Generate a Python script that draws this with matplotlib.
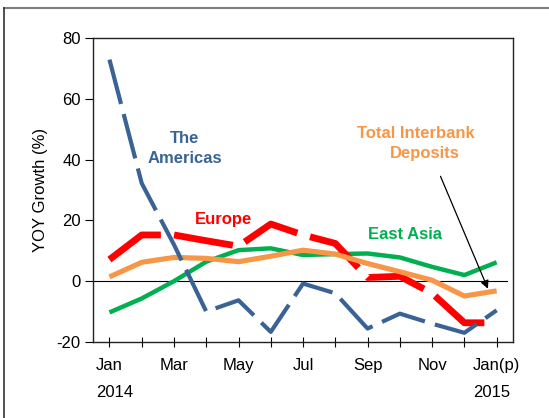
import numpy as np
import matplotlib
matplotlib.use('Agg')
import matplotlib.pyplot as plt
from matplotlib.lines import Line2D

plt.rcParams['font.family'] = ['Liberation Sans', 'DejaVu Sans']
plt.rcParams['lines.scale_dashes'] = False
plt.rcParams['axes.unicode_minus'] = False

# Monthly YOY growth (%), Jan 2014 .. Jan 2015 (p)
months = ['Jan', 'Feb', 'Mar', 'Apr', 'May', 'Jun', 'Jul',
          'Aug', 'Sep', 'Oct', 'Nov', 'Dec', 'Jan(p)']
americas = [72.9, 32.2, 12.0, -10.0, -6.3, -16.7, -0.8, -4.0, -15.6, -10.7, -14.0, -17.0, -9.6]
europe = [7.1, 15.2, 15.2, 13.3, 11.5, 18.8, 15.2, 12.4, 1.2, 1.6, -4.0, -13.7, -13.7]
east_asia = [-10.3, -5.7, 0.0, 6.4, 10.2, 10.8, 8.6, 8.9, 9.1, 7.8, 4.7, 2.0, 6.2]
total = [1.4, 6.2, 7.8, 7.5, 6.4, 8.2, 10.2, 8.9, 5.8, 3.1, 0.3, -4.9, -3.2]
yticks = [-20, 0, 20, 40, 60, 80]

c_blue = '#3A6395'
c_red = '#FF0000'
c_green = '#00B050'
c_orange = '#F79646'

x = np.arange(len(months))

fig = plt.figure(figsize=(5.49, 4.18), dpi=100)
ax = fig.add_axes([0.170, 0.182, 0.764, 0.727])

ax.axhline(0, xmin=0, xmax=0.987, color='black', lw=0.8, zorder=1)

ax.plot(x, east_asia, color=c_green, lw=3.2, solid_capstyle='butt', zorder=2)
ax.plot(x, europe, color=c_red, lw=4.9, dashes=(43, 9.5), dash_capstyle='butt', zorder=3)
ax.plot(x, total, color=c_orange, lw=3.7, solid_capstyle='butt', zorder=4)
ax.plot(x, americas, color=c_blue, lw=3.0, dashes=(33, 7.5), dash_capstyle='butt', zorder=5)

ax.set_xlim(-0.5, 12.5)
ax.set_ylim(-20, 80)
ax.set_yticks(yticks)
ax.set_xticks(x)
ax.set_xticklabels([m if i % 2 == 0 else '' for i, m in enumerate(months)])
ax.tick_params(axis='y', direction='out', length=6, width=0.8, labelsize=12, pad=3)
ax.tick_params(axis='x', direction='inout', length=7, width=0.8, labelsize=12, pad=8)
for s in ax.spines.values():
    s.set_linewidth(1.0)
    s.set_color('#222222')

ax.set_ylabel('YOY Growth (%)', fontsize=12, labelpad=6)

# series labels
ax.text(2.34, 47.0, 'The', color=c_blue, fontsize=12, fontweight='bold', ha='center', va='center')
ax.text(2.34, 40.4, 'Americas', color=c_blue, fontsize=12, fontweight='bold', ha='center', va='center')
ax.text(3.53, 20.4, 'Europe', color=c_red, fontsize=12, fontweight='bold', ha='center', va='center')
ax.text(9.17, 15.3, 'East Asia', color=c_green, fontsize=12, fontweight='bold', ha='center', va='center')
ax.text(9.51, 48.6, 'Total Interbank', color=c_orange, fontsize=12, fontweight='bold', ha='center', va='center')
ax.text(9.76, 42.0, 'Deposits', color=c_orange, fontsize=12, fontweight='bold', ha='center', va='center')
ax.annotate('', xy=(11.73, -2.5), xytext=(10.26, 34.5),
            arrowprops=dict(arrowstyle='-|>', color='black', lw=0.9,
                            mutation_scale=12, shrinkA=0, shrinkB=0))

fig.text(0.208, 0.062, '2014', fontsize=12, ha='center', va='center')
fig.text(0.896, 0.062, '2015', fontsize=12, ha='center', va='center')

# outer frame
fig.add_artist(Line2D([4 / 549, 1.0], [1 - 8 / 418, 1 - 8 / 418], color='#7f7f7f', lw=1.5, transform=fig.transFigure))
fig.add_artist(Line2D([4 / 549, 4 / 549], [0, 1 - 8 / 418], color='#333333', lw=1.2, transform=fig.transFigure))

fig.savefig('out.png', dpi=100)
